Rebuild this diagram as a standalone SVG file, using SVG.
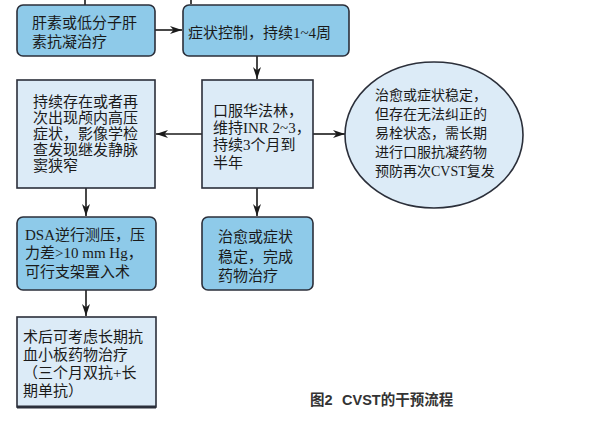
<svg xmlns="http://www.w3.org/2000/svg" width="596" height="441" viewBox="0 0 596 441">
<defs>
<marker id="ah" markerWidth="13" markerHeight="9" refX="12" refY="4.5" orient="auto" markerUnits="userSpaceOnUse">
<path d="M0,0.5 L12,4.5 L0,8.5 L3.5,4.5 Z" fill="#1a1a1a"/>
</marker>
<style>
.dark{fill:#8ecae9;stroke:#2b2f3a;stroke-width:1.6}
.light{fill:#dcebf7;stroke:#2b2f3a;stroke-width:1.6}
.t{font-family:"Liberation Serif","Noto Sans CJK SC",serif;font-size:15px;fill:#1a1a1a}
.s{font-size:14px}
.c{stroke:#1a1a1a;stroke-width:1.6;fill:none}
.cap{font-family:"Liberation Sans","Noto Sans CJK SC",sans-serif;font-size:14.5px;font-weight:bold;fill:#333}
</style>
</defs>
<rect width="596" height="441" fill="#ffffff"/>

<g id="connectors">
<line class="c" x1="85" y1="0" x2="85" y2="5"/>
<line class="c" x1="191" y1="0" x2="191" y2="4"/>
<line class="c" x1="155" y1="30" x2="182" y2="30" marker-end="url(#ah)"/>
<line class="c" x1="257" y1="56" x2="257" y2="79" marker-end="url(#ah)"/>
<line class="c" x1="202" y1="134" x2="156" y2="134" marker-end="url(#ah)"/>
<line class="c" x1="313" y1="134" x2="345" y2="134" marker-end="url(#ah)"/>
<line class="c" x1="86" y1="188" x2="86" y2="216" marker-end="url(#ah)"/>
<line class="c" x1="257" y1="188" x2="257" y2="216" marker-end="url(#ah)"/>
<line class="c" x1="86" y1="290" x2="86" y2="316" marker-end="url(#ah)"/>
</g>

<g id="n1">
<rect class="dark" x="17" y="5" width="138" height="51" rx="6"/>
<text class="t"><tspan x="32" y="28">肝素或低分子肝</tspan><tspan x="32" y="47">素抗凝治疗</tspan></text>
</g>

<g id="n2">
<rect class="dark" x="183" y="5" width="166" height="51" rx="6"/>
<text class="t" x="188" y="38">症状控制，持续1~4周</text>
</g>

<g id="n3">
<rect class="light" x="202" y="80" width="111" height="108"/>
<text class="t"><tspan x="213" y="116">口服华法林，</tspan><tspan x="213" y="133">维持INR 2~3，</tspan><tspan x="213" y="150">持续3个月到</tspan><tspan x="213" y="168">半年</tspan></text>
</g>

<g id="n4">
<rect class="light" x="17" y="80" width="138" height="108"/>
<text class="t"><tspan x="33" y="107">持续存在或者再</tspan><tspan x="33" y="123">次出现颅内高压</tspan><tspan x="33" y="139">症状，影像学检</tspan><tspan x="33" y="155">查发现继发静脉</tspan><tspan x="33" y="171">窦狭窄</tspan></text>
</g>

<g id="n5">
<ellipse class="light" cx="434" cy="135" rx="89" ry="73"/>
<text class="t s"><tspan x="375" y="100">治愈或症状稳定，</tspan><tspan x="375" y="119">但存在无法纠正的</tspan><tspan x="375" y="138">易栓状态，需长期</tspan><tspan x="375" y="157">进行口服抗凝药物</tspan><tspan x="375" y="176">预防再次CVST复发</tspan></text>
</g>

<g id="n6">
<rect class="dark" x="17" y="217" width="139" height="73" rx="6"/>
<text class="t"><tspan x="25" y="240">DSA逆行测压，压</tspan><tspan x="25" y="258">力差&gt;10 mm Hg，</tspan><tspan x="25" y="277">可行支架置入术</tspan></text>
</g>

<g id="n7">
<rect class="dark" x="202" y="217" width="111" height="73" rx="6"/>
<text class="t"><tspan x="218" y="242">治愈或症状</tspan><tspan x="218" y="262">稳定，完成</tspan><tspan x="218" y="281">药物治疗</tspan></text>
</g>

<g id="n8">
<rect class="light" x="17" y="317" width="139" height="90"/>
<line x1="17" y1="407" x2="156" y2="407" stroke="#2b2f3a" stroke-width="3"/>
<text class="t"><tspan x="23" y="342">术后可考虑长期抗</tspan><tspan x="23" y="360">血小板药物治疗</tspan><tspan x="23" y="378">（三个月双抗+长</tspan><tspan x="23" y="396">期单抗）</tspan></text>
</g>

<g id="caption">
<text class="cap" x="310" y="405">图2</text>
<text class="cap" x="342" y="405">CVST的干预流程</text>
</g>
</svg>
